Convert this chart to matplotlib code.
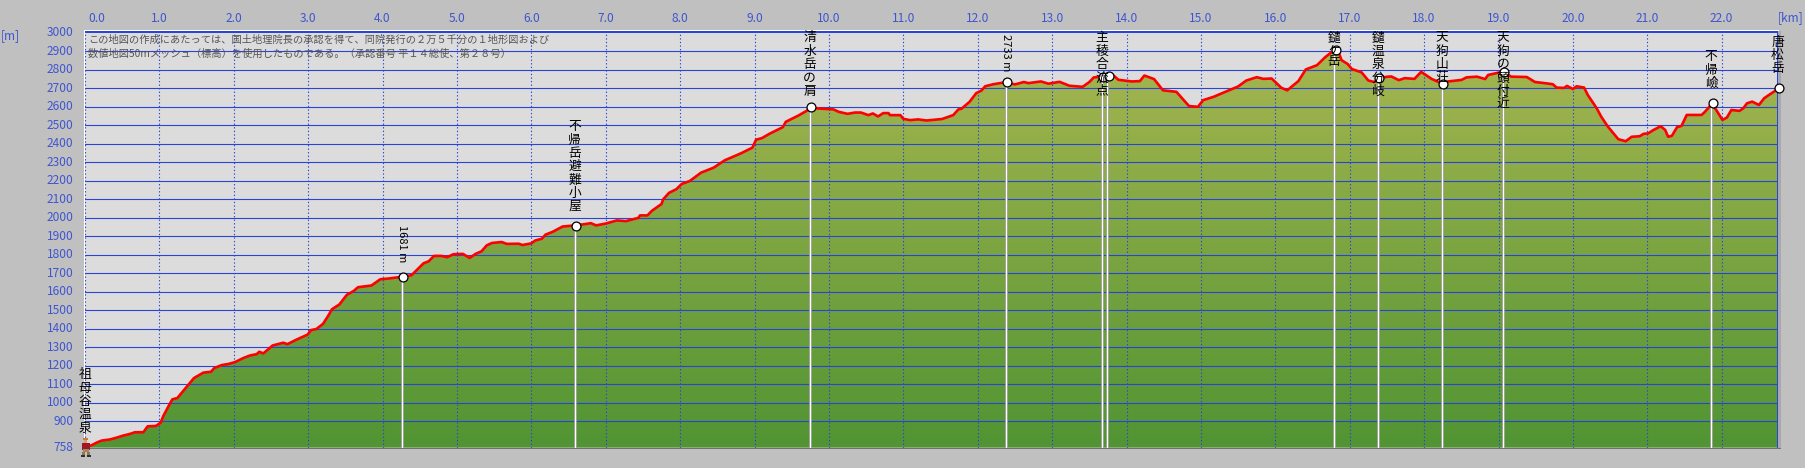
import numpy as np
import matplotlib
matplotlib.use('Agg')
import matplotlib.pyplot as plt
from matplotlib.patches import Rectangle
from matplotlib.colors import LinearSegmentedColormap

plt.rcParams['font.family'] = ['Noto Sans CJK JP', 'DejaVu Sans']

# profile: distance [km], altitude [m]
km = [0.0, 0.09, 0.157, 0.224, 0.336, 0.426, 0.515, 0.605, 0.672, 0.784, 0.842, 0.954, 1.017, 1.053, 1.12, 1.174,
      1.241, 1.358, 1.465, 1.59, 1.694, 1.738, 1.837, 1.927, 2.016, 2.128, 2.218, 2.307, 2.343, 2.397, 2.522, 2.666,
      2.72, 2.845, 2.993, 3.038, 3.11, 3.2, 3.27, 3.32, 3.42, 3.52, 3.61, 3.67, 3.85, 3.97, 4.08, 4.26, 4.39,
      4.55, 4.62, 4.69, 4.79, 4.87, 4.95, 5.08, 5.17, 5.25, 5.33, 5.40, 5.47, 5.60, 5.67, 5.83, 5.88, 6.0, 6.05,
      6.14, 6.19, 6.29, 6.42, 6.59, 6.72, 6.80, 6.87, 7.0, 7.15, 7.27, 7.44, 7.46, 7.56, 7.62, 7.75, 7.77, 7.85,
      7.95, 8.02, 8.13, 8.28, 8.45, 8.60, 8.82, 8.97, 9.02, 9.10, 9.2, 9.38, 9.42, 9.59, 9.70, 9.74, 9.85, 10.06,
      10.13, 10.25, 10.35, 10.43, 10.53, 10.59, 10.66, 10.73, 10.80, 10.82, 10.96, 11.0, 11.09, 11.20, 11.31,
      11.52, 11.67, 11.74, 11.78, 11.89, 11.98, 12.05, 12.10, 12.21, 12.375, 12.50, 12.62, 12.68, 12.85, 12.95,
      13.10, 13.23, 13.41, 13.50, 13.56, 13.67, 13.75, 13.82, 13.89, 14.07, 14.18, 14.24, 14.37, 14.49, 14.67,
      14.84, 14.96, 15.03, 15.17, 15.34, 15.50, 15.61, 15.75, 15.84, 15.95, 16.08, 16.16, 16.31, 16.41, 16.56,
      16.67, 16.79, 16.85, 16.89, 16.97, 17.03, 17.16, 17.25, 17.33, 17.38, 17.49, 17.56, 17.66, 17.74, 17.87,
      17.96, 18.10, 18.24, 18.32, 18.50, 18.57, 18.71, 18.82, 18.86, 19.06, 19.17, 19.38, 19.49, 19.64, 19.73,
      19.78, 19.88, 19.92, 20.0, 20.05, 20.15, 20.20, 20.32, 20.38, 20.47, 20.61, 20.71, 20.79, 20.90, 20.95,
      21.01, 21.08, 21.18, 21.24, 21.28, 21.33, 21.40, 21.46, 21.53, 21.73, 21.77, 21.83, 21.86, 21.92, 22.01,
      22.07, 22.13, 22.24, 22.29, 22.34, 22.41, 22.50, 22.57, 22.62, 22.71, 22.75]
alt = [758, 771, 785, 796, 802, 812, 823, 832, 841, 841, 873, 875, 893, 929, 980, 1019,
       1026, 1082, 1134, 1163, 1168, 1188, 1204, 1210, 1220, 1242, 1256, 1263, 1276, 1267, 1310, 1325,
       1317, 1342, 1369, 1393, 1399, 1427, 1471, 1506, 1532, 1584, 1604, 1625, 1634, 1668, 1672, 1681, 1690,
       1754, 1765, 1794, 1794, 1787, 1803, 1805, 1783, 1805, 1819, 1851, 1864, 1869, 1859, 1860, 1853, 1862, 1877,
       1887, 1909, 1925, 1953, 1959, 1966, 1971, 1959, 1969, 1986, 1982, 2000, 2013, 2013, 2038, 2075, 2099, 2135,
       2155, 2183, 2199, 2244, 2271, 2311, 2349, 2379, 2422, 2431, 2454, 2490, 2519, 2553, 2578, 2597, 2591, 2586,
       2573, 2562, 2569, 2569, 2555, 2564, 2548, 2566, 2566, 2555, 2555, 2535, 2528, 2532, 2526,
       2534, 2555, 2586, 2589, 2627, 2674, 2688, 2711, 2722, 2733, 2721, 2734, 2728, 2737, 2725,
       2735, 2714, 2708, 2734, 2759, 2762, 2771, 2771, 2746, 2737, 2739, 2769, 2750, 2689, 2681,
       2604, 2600, 2636, 2654, 2683, 2710, 2742, 2760, 2751, 2753, 2703, 2689, 2739, 2802, 2825,
       2868, 2906, 2895, 2852, 2832, 2804, 2786, 2742, 2734, 2748, 2762, 2764, 2744, 2755, 2751,
       2789, 2751, 2726, 2737, 2745, 2759, 2763, 2750, 2772, 2790, 2763, 2761, 2734, 2727, 2722,
       2704, 2702, 2713, 2696, 2711, 2704, 2664, 2592, 2547, 2493, 2425, 2414, 2438, 2441, 2454,
       2456, 2474, 2495, 2475, 2438, 2443, 2490, 2497, 2556, 2556, 2571, 2598, 2619, 2587, 2529,
       2542, 2583, 2578, 2592, 2619, 2628, 2610, 2646, 2660, 2684, 2700]

# named points along the route
point_names = ['祖母谷温泉', '1681 m', '不帰岳避難小屋', '清水岳の肩', '2733 m', '主稜合流点', '', '鑓ヶ岳',
               '鑓温泉分岐', '天狗山荘', '天狗の頭付近', '不帰嶮', '唐松岳']
point_km = [0.0, 4.26, 6.58, 9.74, 12.375, 13.67, 13.74, 16.79, 17.38, 18.24, 19.06, 21.86, 22.75]
point_alt = [758, 1681, 1955, 2597, 2733, 2763, 2768, 2908, 2756, 2723, 2790, 2621, 2699]

y_ticks = [758, 900, 1000, 1100, 1200, 1300, 1400, 1500, 1600, 1700, 1800, 1900, 2000,
           2100, 2200, 2300, 2400, 2500, 2600, 2700, 2800, 2900, 3000]
x_ticks = list(range(0, 23))
note_lines = ['この地図の作成にあたっては、国土地理院長の承認を得て、同院発行の２万５千分の１地形図および',
              '数値地図50mメッシュ（標高）を使用したものである。（承認番号 平１４総使、第２８号）']

W, H = 1805, 468
left, right, top, bottom = 85, 1777.5, 32.8, 447.6
BLUE = '#2a44d8'
LABEL = '#3f55d0'

fig = plt.figure(figsize=(W / 100, H / 100), dpi=100, facecolor='#c0c0c0')
ax = fig.add_axes([left / W, 1 - bottom / H, (right - left) / W, (bottom - top) / H], facecolor='#dcdcdc')
ax.set_xticks([])
ax.set_yticks([])
for s in ax.spines.values():
    s.set_visible(False)

# ground: green gradient clipped to the profile
cmap = LinearSegmentedColormap.from_list('ground', ['#519433', '#a6b650'])
poly = ax.fill_between(km, alt, 758, color='none')
img = ax.imshow(np.linspace(0, 1, 256).reshape(-1, 1), extent=[0, 22.75, 758, 2900], origin='lower',
                aspect='auto', cmap=cmap, zorder=1)
img.set_clip_path(poly.get_paths()[0], transform=ax.transData)
ax.set_xlim(0, 22.75)
ax.set_ylim(758, 3000)

for y in y_ticks[1:-1]:
    ax.axhline(y, color=BLUE, lw=0.8, zorder=2)
for x in x_ticks:
    ax.axvline(x, color=BLUE, lw=0.8, ls=(0, (1.2, 2)), zorder=2)

for x, y in zip(point_km[1:], point_alt[1:]):
    ax.plot([x, x], [758, y], color='#909090', lw=1.8, zorder=3, solid_capstyle='butt')
    ax.plot([x, x], [758, y], color='white', lw=1.0, zorder=3.1, solid_capstyle='butt')

ax.plot(km, alt, color='#ff0000', lw=1.9, zorder=4, solid_joinstyle='round')

ax.plot(np.array(point_km[1:]) + 0.02, point_alt[1:], ls='none', marker='o', ms=6.4, mfc='white', mec='black',
        mew=0.9, zorder=5, clip_on=False)

# stacked labels, they end just above the point unless that runs off the top of the plot
STEP = 13.3
for name, x, y in zip(point_names, point_km, point_alt):
    if not name:
        continue
    py = ax.transData.transform((x, y))[1]
    if name[0].isdigit():
        end = min(py + 14, H - 32 - 39)
        ax.annotate(name, xy=(x, y), xycoords='data', xytext=(0.4, (end - py) * 0.72),
                    textcoords='offset points', rotation=-90, ha='center', va='bottom', fontsize=8,
                    color='black', zorder=6, annotation_clip=False)
        continue
    step = 11.7 if name == '鑓ヶ岳' else STEP
    first = min(py + 19.5 + (len(name) - 1) * step, H - 38)
    for i, ch in enumerate(name):
        dy = first - i * step - py
        ax.annotate(ch, xy=(x, y), xycoords='data', xytext=(0, dy * 0.72), textcoords='offset points',
                    ha='center', va='center', fontsize=9.2, color='black', zorder=6, annotation_clip=False)

# frame drawn in pixel coordinates, below the markers and labels
def px(x, y, w, h, c, z=4.5):
    ax.add_artist(Rectangle((x / W, 1 - (y + h) / H), w / W, h / H, transform=fig.transFigure, color=c, lw=0,
                            zorder=z, clip_on=False))

px(left - 1, 30, right - left + 2, 1, 'white')
px(left - 1, 31, right - left + 2, 2, BLUE)
px(left - 1.5, 31, 1, 417, 'white')
px(right - 0.5, 31, 1, 417, BLUE)
px(right + 0.5, 31, 3, 417, '#a8a8b4')
px(left - 1, 447.6, right - left + 4, 1.6, '#707078')

# hiker
px(83, 438, 5, 1.5, '#d07a30', 7)
px(84, 439.5, 3, 3, '#d8a070', 7)
px(81.5, 442.5, 8, 7, '#a01828', 7)
px(83, 449, 6, 2.5, '#9a8a60', 7)
px(82, 451.5, 3, 3, '#8a7a50', 7)
px(87, 451.5, 3, 3, '#8a7a50', 7)
px(81, 454.5, 4, 2, '#303030', 7)
px(87, 454.5, 4, 2, '#303030', 7)

# tick labels
for x in x_ticks:
    xp = 0.16 if x == 0 else x
    ax.annotate('%.1f' % x, xy=(xp, 1), xycoords=('data', 'axes fraction'), xytext=(0, (top - 18) * 0.72),
                textcoords='offset points', ha='center', va='center', fontsize=8.6, color=LABEL, annotation_clip=False)
for y in y_ticks:
    ax.annotate(str(y), xy=(0, y), xycoords='data', xytext=(-(left - 73.5) * 0.72, 0), textcoords='offset points',
                ha='right', va='center', fontsize=8.6, color=LABEL, annotation_clip=False)
fig.text(10 / W, 1 - 36 / H, '[m]', color=LABEL, fontsize=8.6, ha='center', va='center')
fig.text(1791 / W, 1 - 18 / H, '[km]', color=LABEL, fontsize=8.6, ha='center', va='center')

# copyright note
for line, yp in zip(note_lines, [39.5, 53.5]):
    fig.text(88 / W, 1 - yp / H, line, color='#555555', fontsize=7.35, ha='left', va='center', zorder=8)

fig.savefig('out.png', dpi=100, facecolor=fig.get_facecolor())
